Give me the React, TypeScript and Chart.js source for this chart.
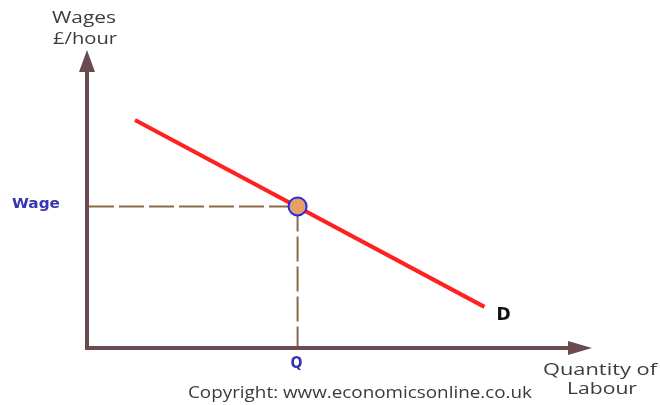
import React, { useEffect, useRef } from "react";
import { Chart, registerables } from "chart.js";

Chart.register(...registerables);

// Data (x = quantity of labour, y = wage), on a 0..100 scale
const demandX: number[] = [9.5, 78.7];
const demandY: number[] = [76.5, 13.8];
const equilibriumX: number[] = [41.7];
const equilibriumY: number[] = [47.5];
const yAxisTitle: string[] = ["Wages", "£/hour"];
const xAxisTitle: string[] = ["Quantity of", "Labour"];
const wageLabel = "Wage";
const quantityLabel = "Q";
const curveLabel = "D";
const copyright = "Copyright: www.economicsonline.co.uk";

const AXIS = "#6b4a50";
const DASH = "#8b6a45";
const BLUE = "#3535b0";

function stretchText(ctx: CanvasRenderingContext2D, text: string, cx: number, cy: number, width: number) {
  const w = ctx.measureText(text).width;
  const s = width / w;
  ctx.save();
  ctx.translate(cx, cy);
  ctx.scale(s, 1);
  ctx.textAlign = "center";
  ctx.fillText(text, 0, 0);
  ctx.restore();
}

const overlay = {
  id: "overlay",
  beforeDatasetsDraw(chart: any) {
    const { ctx, scales } = chart;
    const xs = scales.x, ys = scales.y;
    const x0 = xs.getPixelForValue(0);
    const y0 = ys.getPixelForValue(0);
    const xe = xs.getPixelForValue(equilibriumX[0]);
    const ye = ys.getPixelForValue(equilibriumY[0]);
    ctx.save();
    ctx.strokeStyle = DASH;
    ctx.lineWidth = 2;
    ctx.setLineDash([25, 5]);
    ctx.beginPath();
    ctx.moveTo(x0 + 2, ye);
    ctx.lineTo(xe, ye);
    ctx.stroke();
    ctx.beginPath();
    ctx.moveTo(xe, ye);
    ctx.lineTo(xe, y0 - 2);
    ctx.stroke();
    ctx.setLineDash([]);
    ctx.restore();
  },
  afterDraw(chart: any) {
    const { ctx, scales } = chart;
    const xs = scales.x, ys = scales.y;
    const x0 = xs.getPixelForValue(0);
    const y0 = ys.getPixelForValue(0);
    const xTop = xs.getPixelForValue(xs.max);
    const yTop = ys.getPixelForValue(ys.max);
    ctx.save();
    ctx.strokeStyle = AXIS;
    ctx.fillStyle = AXIS;
    ctx.lineWidth = 4;
    ctx.lineCap = "butt";
    ctx.beginPath();
    ctx.moveTo(x0, y0 + 2);
    ctx.lineTo(x0, yTop + 18);
    ctx.moveTo(x0 - 2, y0);
    ctx.lineTo(xTop - 18, y0);
    ctx.stroke();
    ctx.beginPath();
    ctx.moveTo(x0, yTop);
    ctx.lineTo(x0 - 8, yTop + 22);
    ctx.lineTo(x0 + 8, yTop + 22);
    ctx.closePath();
    ctx.fill();
    ctx.beginPath();
    ctx.moveTo(xTop, y0);
    ctx.lineTo(xTop - 24, y0 - 7);
    ctx.lineTo(xTop - 24, y0 + 7);
    ctx.closePath();
    ctx.fill();

    ctx.textBaseline = "middle";
    ctx.fillStyle = "#3c3c3c";
    ctx.font = "17px 'Open Sans', 'DejaVu Sans', sans-serif";
    stretchText(ctx, yAxisTitle[0], 84, 18, 64);
    stretchText(ctx, yAxisTitle[1], 85, 39, 64);
    stretchText(ctx, xAxisTitle[0], 600, 370, 114);
    stretchText(ctx, xAxisTitle[1], 602, 389, 70);

    ctx.font = "16px 'Open Sans', 'DejaVu Sans', sans-serif";
    ctx.fillStyle = "#3a3a3a";
    stretchText(ctx, copyright, 360, 393, 344);

    const xe = xs.getPixelForValue(equilibriumX[0]);
    const ye = ys.getPixelForValue(equilibriumY[0]);
    ctx.fillStyle = BLUE;
    ctx.font = "bold 14px 'DejaVu Sans', sans-serif";
    stretchText(ctx, wageLabel, 36, ye - 2, 48);
    ctx.font = "bold 15px 'DejaVu Sans', sans-serif";
    stretchText(ctx, quantityLabel, xe - 1, y0 + 16, 12);

    const xd = xs.getPixelForValue(demandX[demandX.length - 1]);
    const yd = ys.getPixelForValue(demandY[demandY.length - 1]);
    ctx.fillStyle = "#111111";
    ctx.font = "bold 17px 'DejaVu Sans', sans-serif";
    ctx.textAlign = "center";
    ctx.fillText(curveLabel, xd + 19, yd + 9);
    ctx.restore();
  },
};

export default function App() {
  const ref = useRef<HTMLCanvasElement | null>(null);
  useEffect(() => {
    if (!ref.current) return;
    const chart = new Chart(ref.current, {
      type: "scatter",
      data: {
        datasets: [
          {
            label: "Demand",
            data: demandX.map((x, i) => ({ x, y: demandY[i] })),
            showLine: true,
            borderColor: "#ff2020",
            borderWidth: 4,
            pointRadius: 0,
            fill: false,
            order: 2,
          },
          {
            label: "Equilibrium",
            data: equilibriumX.map((x, i) => ({ x, y: equilibriumY[i] })),
            pointRadius: 9,
            pointBackgroundColor: "#e8a066",
            pointBorderColor: "#2a2ae0",
            pointBorderWidth: 2,
            order: 1,
          },
        ],
      },
      options: {
        responsive: false,
        animation: false,
        layout: { padding: { left: 87, right: 68, top: 50, bottom: 57 } },
        scales: {
          x: { type: "linear", min: 0, max: 100, display: false },
          y: { type: "linear", min: 0, max: 100, display: false },
        },
        plugins: {
          legend: { display: false },
          tooltip: { enabled: false },
        },
      },
      plugins: [overlay],
    });
    return () => chart.destroy();
  }, []);
  return (
    <div style={{ position: "fixed", left: 0, top: 0, width: 660, height: 405, background: "#fff" }}>
      <canvas ref={ref} width={660} height={405} />
    </div>
  );
}
